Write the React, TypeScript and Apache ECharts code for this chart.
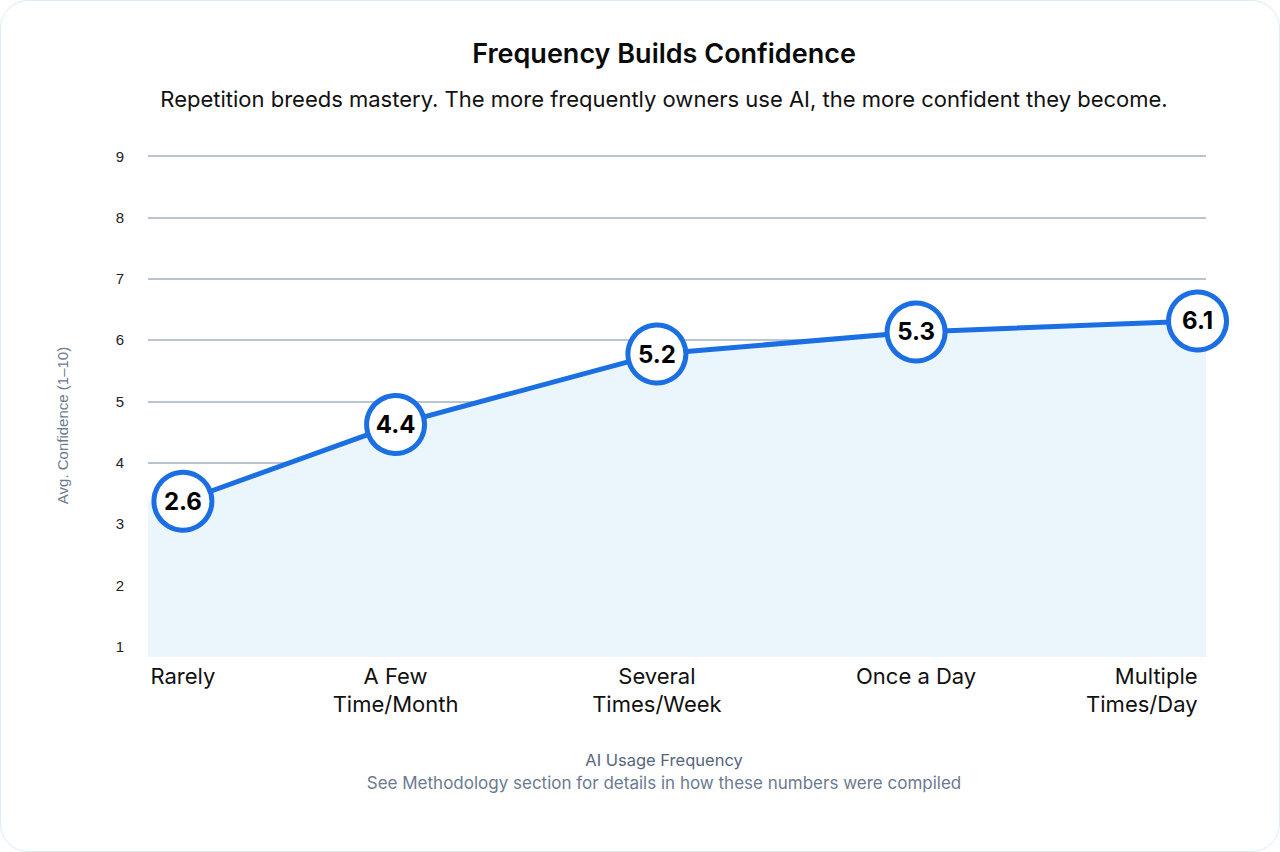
import React, { useEffect, useRef } from "react";
import * as echarts from "echarts";

const TITLE = "Frequency Builds Confidence";
const SUBTITLE = "Repetition breeds mastery. The more frequently owners use AI, the more confident they become.";
const X_NAME = "AI Usage Frequency";
const NOTE = "See Methodology section for details in how these numbers were compiled";
const Y_NAME = "Avg. Confidence (1–10)";

const CATEGORIES = ["Rarely", "A Few\nTime/Month", "Several\nTimes/Week", "Once a Day", "Multiple\nTimes/Day"];
const USAGE_POS = [3.3, 23.4, 48.1, 72.6, 99.2];
const PLOTTED = [3.37, 4.62, 5.77, 6.13, 6.31];
const SCORE_LABELS = ["2.6", "4.4", "5.2", "5.3", "6.1"];
const Y_MIN = 0.83;
const Y_MAX = 9;
const X_MIN = 0;
const X_MAX = 100;

const FONT = "Inter, 'Noto Sans', sans-serif";
const SANS = "'Liberation Sans', Arial, sans-serif";
const BLUE = "#1B6FE2";

export default function App() {
  const ref = useRef<HTMLDivElement>(null);
  useEffect(() => {
    document.body.style.margin = "0";
    if (!ref.current) return;
    const chart = echarts.init(ref.current, undefined, { renderer: "svg" });
    const points = USAGE_POS.map((x, i) => [x, PLOTTED[i]]);
    const areaPts = [[X_MIN, PLOTTED[0]], ...points, [X_MAX, PLOTTED[PLOTTED.length - 1]]];
    chart.setOption({
      animation: false,
      backgroundColor: "transparent",
      title: [
        { text: TITLE, left: 658, top: 34, textAlign: "center", textStyle: { fontFamily: FONT, fontSize: 27, fontWeight: 600, color: "#0a0a0a" } },
        { text: SUBTITLE, left: 658, top: 82, textAlign: "center", textStyle: { fontFamily: FONT, fontSize: 22, fontWeight: 400, color: "#111111" } },
        { text: X_NAME, left: 658, top: 745, textAlign: "center", textStyle: { fontFamily: FONT, fontSize: 16.5, fontWeight: 400, color: "#56657C" } },
        { text: NOTE, left: 658, top: 768, textAlign: "center", textStyle: { fontFamily: FONT, fontSize: 17, fontWeight: 400, color: "#6B7A90" } },
      ],
      grid: { left: 147, right: 73, top: 155, bottom: 194 },
      xAxis: {
        type: "value",
        min: X_MIN,
        max: X_MAX,
        axisLine: { show: false },
        axisTick: { show: false },
        splitLine: { show: false },
        axisLabel: {
          customValues: USAGE_POS,
          formatter: (v: number) => {
            const i = USAGE_POS.indexOf(v);
            return i >= 0 ? CATEGORIES[i] : "";
          },
          alignMaxLabel: "right",
          margin: 5,
          fontFamily: FONT,
          fontSize: 22,
          lineHeight: 28,
          color: "#111111",
        },
      },
      yAxis: {
        type: "value",
        min: Y_MIN,
        max: Y_MAX,
        splitNumber: 8,
        name: Y_NAME,
        nameLocation: "middle",
        nameGap: 78,
        nameTextStyle: { fontFamily: SANS, fontSize: 15, color: "#6B7A90", padding: [0, 38, 0, 0] },
        axisLine: { show: false },
        axisTick: { show: false },
        axisLabel: {
          showMinLabel: false,
          formatter: (v: number) => (Number.isInteger(v) ? String(v) : ""),
          margin: 24,
          fontFamily: SANS,
          fontSize: 15,
          color: "#222222",
        },
        splitLine: { show: true, showMinLine: false, lineStyle: { color: "#A3AFBF", width: 1.6 } },
      },
      series: [
        {
          type: "line",
          data: areaPts,
          symbol: "none",
          lineStyle: { width: 0 },
          areaStyle: { color: "#EAF6FC", opacity: 1 },
          silent: true,
          z: 1,
        },
        {
          type: "line",
          data: points,
          symbol: "circle",
          symbolSize: 58,
          lineStyle: { color: BLUE, width: 5 },
          itemStyle: { color: "#ffffff", borderColor: BLUE, borderWidth: 5 },
          label: {
            show: true,
            position: "inside",
            formatter: (p: any) => SCORE_LABELS[p.dataIndex],
            fontFamily: FONT,
            fontSize: 24,
            fontWeight: 700,
            color: "#000000",
          },
          z: 3,
        },
      ],
    });
    return () => chart.dispose();
  }, []);
  return (
    <div
      style={{
        width: 1280,
        height: 852,
        boxSizing: "border-box",
        border: "1px solid #DCEBF8",
        borderRadius: 28,
        background: "#ffffff",
        overflow: "hidden",
      }}
    >
      <div ref={ref} style={{ width: 1278, height: 850 }} />
    </div>
  );
}
